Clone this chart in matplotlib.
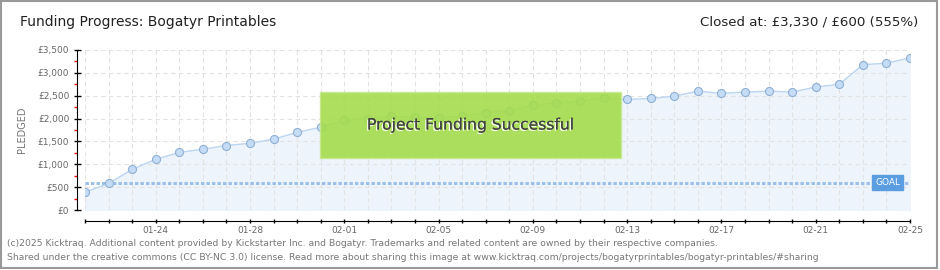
import numpy as np
import pandas as pd
import matplotlib
matplotlib.use("Agg")
import matplotlib.pyplot as plt
import matplotlib.patheffects as pe
from matplotlib.patches import Rectangle
from matplotlib.ticker import FuncFormatter, MultipleLocator

plt.rcParams['font.family'] = ['DejaVu Sans']

# daily pledged totals, 01-21 .. 02-25
dates = pd.date_range('2025-01-21', '2025-02-25', freq='D')
pledged = [390, 580, 890, 1110, 1260, 1330, 1410, 1460, 1550, 1700,
           1810, 1960, 2000, 2050, 2030, 2010, 2060, 2130, 2170, 2290,
           2340, 2380, 2450, 2420, 2440, 2490, 2600, 2550, 2580, 2600,
           2580, 2690, 2750, 3180, 3210, 3330]
goal = 600
project = 'Bogatyr Printables'
creator = 'Bogatyr'
label_every = 4
first_label = 3

day = np.arange(len(dates))
label_days = day[first_label::label_every]
tick_labels = [dates[i].strftime('%m-%d') for i in label_days]

PX = 72 / 100  # points per pixel

fig = plt.figure(figsize=(9.4, 2.7), dpi=100)
ax = fig.add_axes([85/940, 60/270, 825/940, 160/270])

ax.fill_between(day, pledged, 0, color='#edf4fc', zorder=1)
ax.plot(day, pledged, color='#bcd6f2', lw=1, zorder=3,
        marker='o', ms=5.8, mfc='#c4dcf6', mec='#90b0d2', mew=0.8)
ax.axhline(goal, color='#9cc0e8', lw=2.2, linestyle=(0, (1.1, 0.7)), zorder=2)
ax.text(day[-1] - 0.95, goal, 'GOAL', color='white', fontsize=6.5, ha='center', va='center',
        zorder=6, bbox=dict(boxstyle='square,pad=0.3', fc='#5a9de0', ec='#5a9de0'))

ax.set_xlim(day[0], day[-1])
ax.set_ylim(0, 3500)
ax.set_xticks(label_days)
ax.set_xticklabels(tick_labels)
ax.set_xticks(day, minor=True)
ax.yaxis.set_major_locator(MultipleLocator(500))
ax.yaxis.set_minor_locator(MultipleLocator(250))
ax.yaxis.set_major_formatter(FuncFormatter(lambda v, p: '£{:,.0f}'.format(v)))

ax.grid(which='major', color='#e2e2e2', linestyle=(0, (4, 3)), lw=0.8, zorder=0)
ax.grid(which='minor', axis='x', color='#e2e2e2', linestyle=(0, (4, 3)), lw=0.8, zorder=0)
for s in ['top', 'right']:
    ax.spines[s].set_visible(False)
ax.spines['left'].set_position(('outward', 8 * PX))
ax.spines['bottom'].set_position(('outward', 11 * PX))
ax.tick_params(axis='both', which='major', direction='inout', width=1,
               colors='black', labelcolor='#666', labelsize=6.5)
ax.tick_params(axis='y', which='major', length=7 * PX, pad=3)
ax.tick_params(axis='x', which='both', direction='inout', length=5 * PX, width=1, color='black', pad=1.5)
ax.tick_params(axis='y', which='minor', direction='out', length=3 * PX, width=1, color='red')
ax.set_ylabel('PLEDGED', fontsize=7, color='#777', labelpad=8)

# success banner
box_x0, box_x1 = 9.97, 22.73
box_y0, box_y1 = 1144, 2575
ax.add_patch(Rectangle((box_x0, box_y0), box_x1 - box_x0, box_y1 - box_y0,
                       fc='#a5dc4c', ec='#c6e98e', lw=1, alpha=0.9, zorder=5))
ax.text((box_x0 + box_x1) / 2, (box_y0 + box_y1) / 2, 'Project Funding Successful',
        fontsize=11.2, color='#444', ha='center', va='center', zorder=6,
        path_effects=[pe.withSimplePatchShadow(offset=(-1, -1), shadow_rgbFace='white', alpha=0.9),
                      pe.Normal()])

fig.text(20/940, 1 - 22/270, 'Funding Progress: ' + project, fontsize=10, color='#222',
         ha='left', va='center')
fig.text(918/940, 1 - 22/270,
         'Closed at: £{:,} / £{:,} ({:.0f}%)'.format(pledged[-1], goal, np.floor(pledged[-1] / goal * 100)),
         fontsize=9.6, color='#222', ha='right', va='center')

fig.text(7/940, 1 - 243/270,
         '(c)2025 Kicktraq. Additional content provided by Kickstarter Inc. and ' + creator
         + '. Trademarks and related content are owned by their respective companies.',
         fontsize=6.7, color='#777', ha='left', va='center')
fig.text(7/940, 1 - 257/270,
         'Shared under the creative commons (CC BY-NC 3.0) license. Read more about sharing this image at '
         'www.kicktraq.com/projects/bogatyrprintables/bogatyr-printables/#sharing',
         fontsize=6.7, color='#777', ha='left', va='center')

fig.add_artist(Rectangle((0.001, 0.006), 0.996, 0.992, transform=fig.transFigure,
                         fill=False, ec='#999', lw=1.5))

fig.savefig('out.png', dpi=100)
